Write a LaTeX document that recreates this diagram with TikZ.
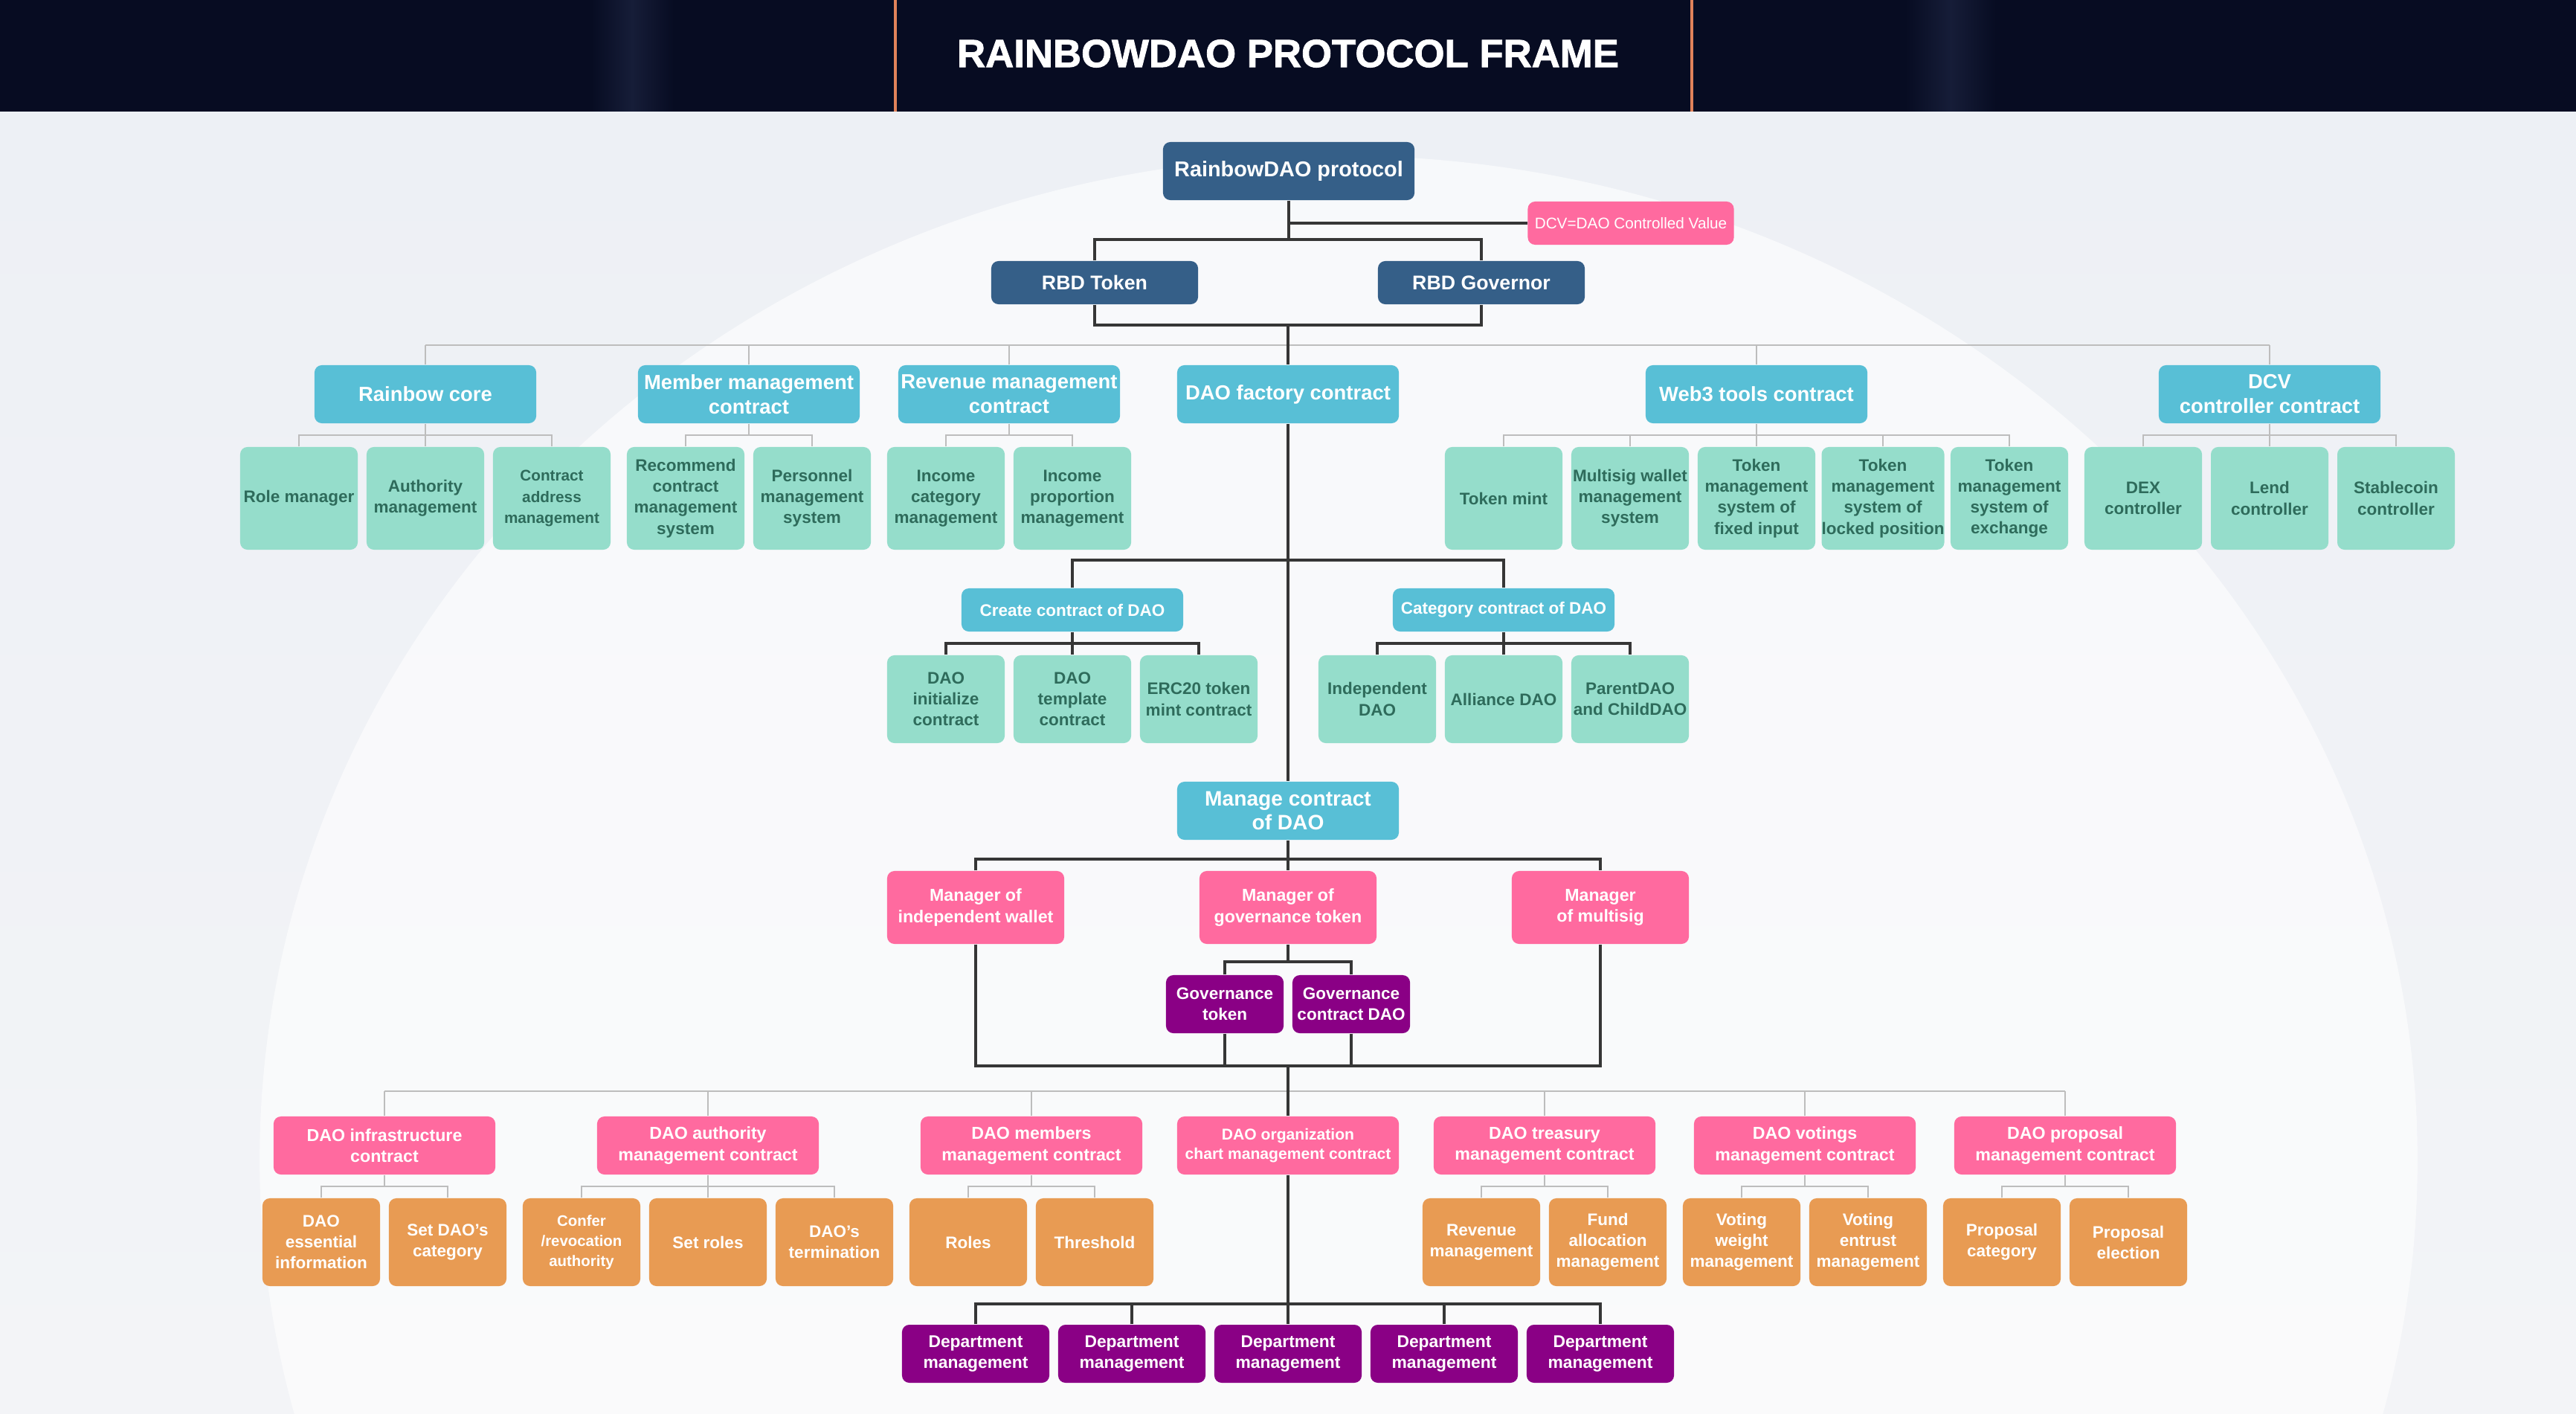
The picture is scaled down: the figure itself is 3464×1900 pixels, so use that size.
\documentclass[tikz,border=0pt]{standalone}
\usepackage{fontspec}
\setmainfont{Liberation Sans}
\newfontfamily\titlefont[BoldFont={Liberation Sans Bold}, BoldFeatures={FakeBold=1.6}]{Liberation Sans}

\definecolor{headbg}{HTML}{070C22}
\definecolor{headstripe}{HTML}{161D38}
\definecolor{glowline}{HTML}{E0825A}
\definecolor{pagebg}{HTML}{EDF0F5}
\definecolor{pagelow}{HTML}{F3F4F7}
\definecolor{navy}{HTML}{355F88}
\definecolor{skyblue}{HTML}{58BFD6}
\definecolor{mint}{HTML}{95DDCB}
\definecolor{minttext}{HTML}{2E6B5B}
\definecolor{rose}{HTML}{FF6A9F}
\definecolor{amber}{HTML}{E89B53}
\definecolor{plum}{HTML}{8A0085}
\definecolor{darkline}{HTML}{363636}
\definecolor{greyline}{HTML}{BDBDBD}

\tikzset{
  box/.style={rounded corners=2.8pt, inner sep=0pt, align=center, text=white},
  navybox/.style={box, fill=navy, minimum width=2.78cm, minimum height=0.58cm,
    font=\bfseries\fontsize{7.6}{9}\selectfont},
  skybox/.style={box, fill=skyblue, minimum width=2.98cm, minimum height=0.78cm,
    font=\bfseries\fontsize{7.8}{9.4}\selectfont},
  mintbox/.style={box, fill=mint, text=minttext, minimum width=1.58cm, minimum height=1.38cm,
    font=\bfseries\fontsize{6.4}{8}\selectfont},
  rosebox/.style={box, fill=rose, minimum width=2.98cm, minimum height=0.78cm,
    font=\bfseries\fontsize{6.6}{8}\selectfont},
  amberbox/.style={box, fill=amber, minimum width=1.58cm, minimum height=1.18cm,
    font=\bfseries\fontsize{6.4}{8}\selectfont},
  plumbox/.style={box, fill=plum, minimum width=1.58cm, minimum height=0.78cm,
    font=\bfseries\fontsize{6.4}{8}\selectfont},
  trunk/.style={draw=darkline, line width=0.9pt},
  branch/.style={draw=greyline, line width=0.7pt}
}

\begin{document}
\begin{tikzpicture}[x=0.01cm, y=-0.01cm]
        \useasboundingbox (0,0) rectangle (3464,1900);

        % page and header
        \shade[top color=pagebg, bottom color=pagelow] (0,150) rectangle (3464,1900);
        \begin{scope}
          \clip (0,150) rectangle (3464,1900);
          \fill[white, opacity=0.6] (1800,1560) ellipse [x radius=14.5cm, y radius=13.5cm];
        \end{scope}
        \fill[headbg] (0,0) rectangle (3464,150);
        \shade[left color=headbg, right color=headstripe] (795,0) rectangle (850,150);
        \shade[left color=headstripe, right color=headbg] (850,0) rectangle (906,150);
        \shade[left color=headbg, right color=headstripe] (2562,0) rectangle (2623,150);
        \shade[left color=headstripe, right color=headbg] (2623,0) rectangle (2684,150);
        \draw[glowline, line width=1.2pt] (1204,0) -- (1204,150);
        \draw[glowline, line width=1.2pt] (2275,0) -- (2275,150);
        \node[text=white, font=\titlefont\bfseries\fontsize{15}{18}\selectfont] (title) at (1732,72) {RAINBOWDAO PROTOCOL FRAME};

        % protocol and tokens
        \node[navybox, minimum width=3.38cm, minimum height=0.78cm, font=\bfseries\fontsize{8.2}{10}\selectfont] (proto) at (1733,230) {RainbowDAO protocol};
        \node[box, fill=rose, minimum width=2.77cm, minimum height=0.58cm, font=\fontsize{5.9}{7}\selectfont] (dcv) at (2193,300) {DCV=DAO Controlled Value};
        \node[navybox] (token) at (1472,380) {RBD Token};
        \node[navybox] (governor) at (1992,380) {RBD Governor};

        % second row
        \node[skybox] (core) at (572,530) {Rainbow core};
        \node[skybox] (member) at (1007,530) {Member management\\contract};
        \node[skybox] (revenue) at (1357,530) {Revenue management\\contract};
        \node[skybox] (factory) at (1732,530) {DAO factory contract};
        \node[skybox] (web3) at (2362,530) {Web3 tools contract};
        \node[skybox] (dcvctl) at (3052,530) {DCV\\controller contract};

        \node[mintbox] (role) at (402,670) {Role manager};
        \node[mintbox] (authority) at (572,670) {Authority\\management};
        \node[mintbox, font=\bfseries\fontsize{5.9}{8}\selectfont] (address) at (742,670) {Contract\\address\\management};
        \node[mintbox] (recommend) at (922,670) {Recommend\\contract\\management\\system};
        \node[mintbox] (personnel) at (1092,670) {Personnel\\management\\system};
        \node[mintbox] (incat) at (1272,670) {Income\\category\\management};
        \node[mintbox] (inprop) at (1442,670) {Income\\proportion\\management};
        \node[mintbox] (tmint) at (2022,670) {Token mint};
        \node[mintbox] (multisig) at (2192,670) {Multisig wallet\\management\\system};
        \node[mintbox] (tfixed) at (2362,670) {Token\\management\\system of\\fixed input};
        \node[mintbox] (tlocked) at (2532,670) {Token\\management\\system of\\locked position};
        \node[mintbox] (texch) at (2702,670) {Token\\management\\system of\\exchange};
        \node[mintbox] (dex) at (2882,670) {DEX\\controller};
        \node[mintbox] (lend) at (3052,670) {Lend\\controller};
        \node[mintbox] (stable) at (3222,670) {Stablecoin\\controller};

        % factory branches
        \node[skybox, minimum height=0.58cm, font=\bfseries\fontsize{6.4}{8}\selectfont] (create) at (1442,820) {Create contract of DAO};
        \node[skybox, minimum height=0.58cm, font=\bfseries\fontsize{6.4}{8}\selectfont] (category) at (2022,820) {Category contract of DAO};

        \node[mintbox, minimum height=1.18cm] (init) at (1272,940) {DAO\\initialize\\contract};
        \node[mintbox, minimum height=1.18cm] (templ) at (1442,940) {DAO\\template\\contract};
        \node[mintbox, minimum height=1.18cm] (erc) at (1612,940) {ERC20 token\\mint contract};
        \node[mintbox, minimum height=1.18cm] (indep) at (1852,940) {Independent\\DAO};
        \node[mintbox, minimum height=1.18cm] (alliance) at (2022,940) {Alliance DAO};
        \node[mintbox, minimum height=1.18cm] (parent) at (2192,940) {ParentDAO\\and ChildDAO};

        % manage contract
        \node[skybox, font=\bfseries\fontsize{8}{9.1}\selectfont] (manage) at (1732,1090) {Manage contract\\of DAO};
        \node[rosebox, minimum width=2.38cm, minimum height=0.98cm] (mwallet) at (1312,1220) {Manager of\\independent wallet};
        \node[rosebox, minimum width=2.38cm, minimum height=0.98cm] (mgov) at (1732,1220) {Manager of\\governance token};
        \node[rosebox, minimum width=2.38cm, minimum height=0.98cm] (mmulti) at (2152,1220) {Manager\\of multisig};
        \node[plumbox] (govtok) at (1647,1350) {Governance\\token};
        \node[plumbox] (govdao) at (1817,1350) {Governance\\contract DAO};

        % contracts of DAO
        \node[rosebox] (infra) at (517,1540) {DAO infrastructure\\contract};
        \node[rosebox] (authm) at (952,1540) {DAO authority\\management contract};
        \node[rosebox] (members) at (1387,1540) {DAO members\\management contract};
        \node[rosebox, font=\bfseries\fontsize{6}{7.6}\selectfont] (orgchart) at (1732,1540) {DAO organization\\chart management contract};
        \node[rosebox] (treasury) at (2077,1540) {DAO treasury\\management contract};
        \node[rosebox] (votings) at (2427,1540) {DAO votings\\management contract};
        \node[rosebox] (proposal) at (2777,1540) {DAO proposal\\management contract};

        \node[amberbox] (essential) at (432,1670) {DAO\\essential\\information};
        \node[amberbox] (setcat) at (602,1670) {Set DAO’s\\category};
        \node[amberbox, font=\bfseries\fontsize{5.8}{7.6}\selectfont] (confer) at (782,1670) {Confer\\/revocation\\authority};
        \node[amberbox] (setroles) at (952,1670) {Set roles};
        \node[amberbox] (termination) at (1122,1670) {DAO’s\\termination};
        \node[amberbox] (roles) at (1302,1670) {Roles};
        \node[amberbox] (threshold) at (1472,1670) {Threshold};
        \node[amberbox] (revmgmt) at (1992,1670) {Revenue\\management};
        \node[amberbox] (fund) at (2162,1670) {Fund\\allocation\\management};
        \node[amberbox] (vweight) at (2342,1670) {Voting\\weight\\management};
        \node[amberbox] (ventrust) at (2512,1670) {Voting\\entrust\\management};
        \node[amberbox] (pcat) at (2692,1670) {Proposal\\category};
        \node[amberbox] (pelect) at (2862,1670) {Proposal\\election};

        \node[plumbox, minimum width=1.98cm, font=\bfseries\fontsize{6.5}{8}\selectfont] (dept1) at (1312,1820) {Department\\management};
        \node[plumbox, minimum width=1.98cm, font=\bfseries\fontsize{6.5}{8}\selectfont] (dept2) at (1522,1820) {Department\\management};
        \node[plumbox, minimum width=1.98cm, font=\bfseries\fontsize{6.5}{8}\selectfont] (dept3) at (1732,1820) {Department\\management};
        \node[plumbox, minimum width=1.98cm, font=\bfseries\fontsize{6.5}{8}\selectfont] (dept4) at (1942,1820) {Department\\management};
        \node[plumbox, minimum width=1.98cm, font=\bfseries\fontsize{6.5}{8}\selectfont] (dept5) at (2152,1820) {Department\\management};

        % grey connectors
        \draw[branch] (core.north |- 0,464) -- (dcvctl.north |- 0,464);
        \draw[branch] (core.north) -- (core.north |- 0,464);
        \draw[branch] (member.north) -- (member.north |- 0,464);
        \draw[branch] (revenue.north) -- (revenue.north |- 0,464);
        \draw[branch] (web3.north) -- (web3.north |- 0,464);
        \draw[branch] (dcvctl.north) -- (dcvctl.north |- 0,464);

        \draw[branch] (role.north) |- (core.south |- 0,585) -| (address.north);
        \draw[branch] (core.south) -- (authority.north);
        \draw[branch] (recommend.north) |- (member.south |- 0,585) -| (personnel.north);
        \draw[branch] (member.south) -- (member.south |- 0,585);
        \draw[branch] (incat.north) |- (revenue.south |- 0,585) -| (inprop.north);
        \draw[branch] (revenue.south) -- (revenue.south |- 0,585);
        \draw[branch] (tmint.north) |- (web3.south |- 0,585) -| (texch.north);
        \draw[branch] (web3.south) -- (tfixed.north);
        \draw[branch] (multisig.north) -- (multisig.north |- 0,585);
        \draw[branch] (tlocked.north) -- (tlocked.north |- 0,585);
        \draw[branch] (dex.north) |- (dcvctl.south |- 0,585) -| (stable.north);
        \draw[branch] (dcvctl.south) -- (lend.north);

        \draw[branch] (infra.north |- 0,1467) -- (proposal.north |- 0,1467);
        \draw[branch] (infra.north) -- (infra.north |- 0,1467);
        \draw[branch] (authm.north) -- (authm.north |- 0,1467);
        \draw[branch] (members.north) -- (members.north |- 0,1467);
        \draw[branch] (treasury.north) -- (treasury.north |- 0,1467);
        \draw[branch] (votings.north) -- (votings.north |- 0,1467);
        \draw[branch] (proposal.north) -- (proposal.north |- 0,1467);

        \draw[branch] (essential.north) |- (infra.south |- 0,1595) -| (setcat.north);
        \draw[branch] (infra.south) -- (infra.south |- 0,1595);
        \draw[branch] (confer.north) |- (authm.south |- 0,1595) -| (termination.north);
        \draw[branch] (authm.south) -- (setroles.north);
        \draw[branch] (roles.north) |- (members.south |- 0,1595) -| (threshold.north);
        \draw[branch] (members.south) -- (members.south |- 0,1595);
        \draw[branch] (revmgmt.north) |- (treasury.south |- 0,1595) -| (fund.north);
        \draw[branch] (treasury.south) -- (treasury.south |- 0,1595);
        \draw[branch] (vweight.north) |- (votings.south |- 0,1595) -| (ventrust.north);
        \draw[branch] (votings.south) -- (votings.south |- 0,1595);
        \draw[branch] (pcat.north) |- (proposal.south |- 0,1595) -| (pelect.north);
        \draw[branch] (proposal.south) -- (proposal.south |- 0,1595);

        % dark connectors
        \draw[trunk] (proto.south) -- (proto.south |- 0,322);
        \draw[trunk] (proto.south |- dcv) -- (dcv.west);
        \draw[trunk] (token.north) |- (proto.south |- 0,322) -| (governor.north);
        \draw[trunk] (token.south) |- (factory.north |- 0,437) -| (governor.south);
        \draw[trunk] (factory.north |- 0,437) -- (factory.north);

        \draw[trunk] (factory.south) -- (manage.north);
        \draw[trunk] (create.north) |- (factory.south |- 0,753) -| (category.north);
        \draw[trunk] (init.north) |- (create.south |- 0,865) -| (erc.north);
        \draw[trunk] (create.south) -- (templ.north);
        \draw[trunk] (indep.north) |- (category.south |- 0,865) -| (parent.north);
        \draw[trunk] (category.south) -- (alliance.north);

        \draw[trunk] (mwallet.north) |- (manage.south |- 0,1155) -| (mmulti.north);
        \draw[trunk] (manage.south) -- (mgov.north);
        \draw[trunk] (govtok.north) |- (mgov.south |- 0,1293) -| (govdao.north);
        \draw[trunk] (mgov.south) -- (mgov.south |- 0,1293);
        \draw[trunk] (mwallet.south) |- (orgchart.north |- 0,1433) -| (mmulti.south);
        \draw[trunk] (govtok.south) -- (govtok.south |- 0,1433);
        \draw[trunk] (govdao.south) -- (govdao.south |- 0,1433);
        \draw[trunk] (orgchart.north |- 0,1433) -- (orgchart.north);

        \draw[trunk] (dept1.north) |- (orgchart.south |- 0,1753) -| (dept5.north);
        \draw[trunk] (orgchart.south) -- (dept3.north);
        \draw[trunk] (dept2.north) -- (dept2.north |- 0,1753);
        \draw[trunk] (dept4.north) -- (dept4.north |- 0,1753);
      \end{tikzpicture}
\end{document}
